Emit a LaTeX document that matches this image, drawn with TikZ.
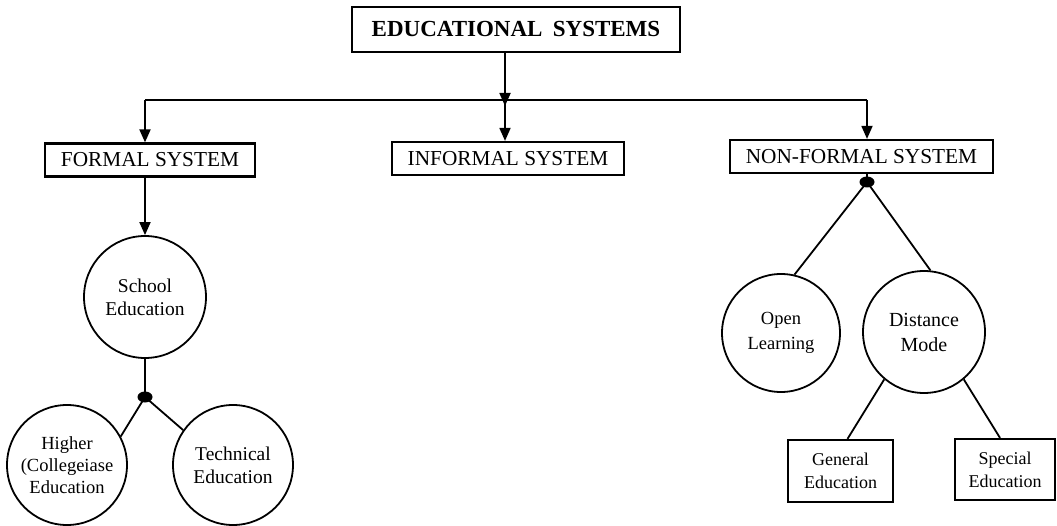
\documentclass[tikz,border=0pt]{standalone}
\usepackage{fontspec}
\setmainfont{Liberation Serif}
\usetikzlibrary{arrows.meta,calc,shapes.geometric}
\begin{document}
\begin{tikzpicture}[x=1pt,y=-1pt,
  titlebox/.style={draw, line width=2.4pt, inner sep=0pt, minimum width=328pt, minimum height=45pt, font=\fontsize{23}{26}\selectfont\bfseries},
  sysbox/.style={draw, line width=2.2pt, inner sep=0pt, minimum height=33pt, font=\fontsize{21.3}{24}\selectfont},
  subbox/.style={draw, line width=2.2pt, inner sep=0pt, align=center, font=\fontsize{18}{23}\selectfont},
  circ/.style={draw, circle, line width=1.8pt, inner sep=0pt, align=center, font=\fontsize{19.5}{23}\selectfont},
  dotnode/.style={ellipse, fill=black, inner sep=0pt, minimum width=15pt, minimum height=11pt},
  conn/.style={line width=1.8pt},
  arr/.style={line width=1.8pt, -{Triangle[length=13pt,width=11pt]}}
]
\fill[white] (0,0) rectangle (1057,526);
\useasboundingbox (0,0) rectangle (1057,526);

% top level
\node[titlebox] (edu) at (516,29.5) {EDUCATIONAL\hspace{0.45em}SYSTEMS};
\node[sysbox, minimum width=210pt] (formal) at (150,160) {FORMAL SYSTEM};
\node[sysbox, minimum width=232pt] (informal) at (508,158.5) {INFORMAL SYSTEM};
\node[sysbox, minimum width=263pt] (nonformal) at (861.5,156.5) {NON-FORMAL SYSTEM};

\coordinate (jl) at (145,100);
\coordinate (jc) at (505,100);
\coordinate (jr) at (867,100);
\coordinate (jt) at (505,106);

\draw[conn] (jl) -- (jr);
\draw[arr] (edu.south -| jc) -- (jt);
\draw[arr] (jc) -- (informal.north -| jc);
\draw[arr] (jl) -- (formal.north -| jl);
\draw[arr] (jr) -- (nonformal.north -| jr);

% formal branch
\node[circ, minimum size=122pt] (school) at (145,297) {School\\Education};
\draw[arr] (formal.south -| jl) -- (school.north -| jl);
\node[dotnode] (d1) at (145,397) {};
\draw[conn] (school.south) -- (d1.center);
\node[circ, minimum size=120pt, font=\fontsize{18.5}{22}\selectfont] (higher) at (67,465) {Higher\\(Collegeiase\\Education};
\node[circ, minimum size=120pt] (technical) at (233,465) {Technical\\Education};
\draw[conn] (d1.center) -- (higher.28);
\draw[conn] (d1.center) -- (technical.145);

% non-formal branch
\node[dotnode] (d2) at (867,182) {};
\draw[conn] (nonformal.south -| d2) -- (d2.center);
\node[circ, minimum size=118pt, font=\fontsize{18.5}{25}\selectfont] (open) at (781,333) {Open\\Learning};
\node[circ, minimum size=122pt, font=\fontsize{20}{25}\selectfont] (distance) at (924,332) {Distance\\Mode};
\draw[conn] (d2.center) -- (open.77);
\draw[conn] (d2.center) -- (distance.84);

\node[subbox, minimum width=105pt, minimum height=62pt] (general) at (840.5,471) {General\\Education};
\node[subbox, minimum width=100pt, minimum height=61pt] (special) at (1005,469.5) {Special\\Education};
\draw[conn] (distance.230) -- ($(general.north)+(7,0)$);
\draw[conn] (distance.310) -- ($(special.north)+(-5,0)$);
\end{tikzpicture}
\end{document}
